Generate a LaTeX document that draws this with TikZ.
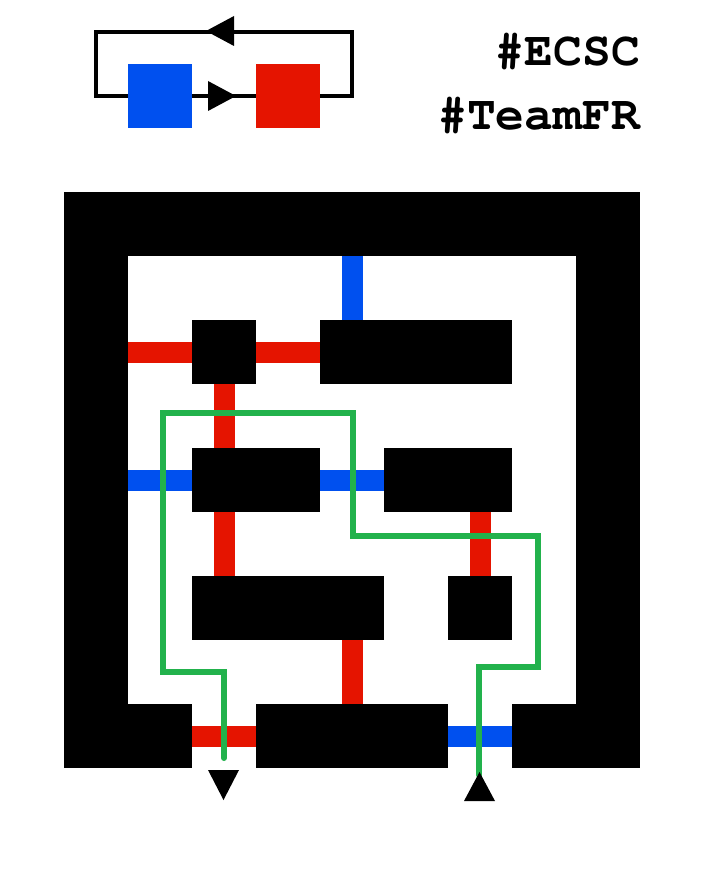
\documentclass[tikz,border=0pt]{standalone}
\usepackage[T1]{fontenc}
\definecolor{mblue}{RGB}{0,80,239}
\definecolor{mred}{RGB}{229,20,0}
\definecolor{mgreen}{RGB}{34,178,76}
\tikzset{
  blk/.style={fill=black, draw=none, inner sep=0pt, outer sep=0pt},
  sq/.style={draw=none, inner sep=0pt, outer sep=0pt, minimum width=64pt, minimum height=64pt},
  bar/.style={line width=21pt, line cap=butt},
  route/.style={draw=mgreen, line width=6pt, line cap=round, line join=miter},
  legline/.style={draw=black, line width=4pt},
  tag/.style={anchor=base east, inner sep=0pt, font=\fontfamily{pcr}\fontseries{b}\fontsize{48}{48}\selectfont}
}
\begin{document}
\begin{tikzpicture}[x=1pt,y=-1pt]
\useasboundingbox (0,0) rectangle (704,896);
% legend
\coordinate (lTL) at (96,32);
\coordinate (lTR) at (352,32);
\coordinate (lBL) at (96,96);
\coordinate (lBR) at (352,96);
\draw[legline] (lBL) -- (lTL) -- (lTR) -- (lBR) -- cycle;
\node[sq, fill=mblue] (lblue) at (160,96) {};
\node[sq, fill=mred] (lred) at (288,96) {};
\fill (208,81) -- (236,96) -- (208,111) -- cycle;
\fill (234,16) -- (206,31) -- (234,46) -- cycle;
% tags
\node[tag] (t1) at (640,66) {\#ECSC};
\node[tag] (t2) at (640,130) {\#TeamFR};
% frame
\fill[black] (64,192) rectangle (640,768);
\fill[white] (128,256) rectangle (576,704);
\fill[white] (192,704) rectangle (256,768);
\fill[white] (448,704) rectangle (512,768);
% bars
\draw[bar, mblue] (352,256) -- (352,320);
\draw[bar, mred] (128,352) -- (192,352);
\draw[bar, mred] (256,352) -- (320,352);
\draw[bar, mred] (224,384) -- (224,448);
\draw[bar, mblue] (128,480) -- (192,480);
\draw[bar, mblue] (320,480) -- (384,480);
\draw[bar, mred] (224,512) -- (224,576);
\draw[bar, mred] (480,512) -- (480,576);
\draw[bar, mred] (352,640) -- (352,704);
\draw[bar, mred] (192,736) -- (256,736);
\draw[bar, mblue] (448,736) -- (512,736);
% blocks
\node[blk, minimum width=64pt, minimum height=64pt] (b1) at (224,352) {};
\node[blk, minimum width=192pt, minimum height=64pt] (b2) at (416,352) {};
\node[blk, minimum width=128pt, minimum height=64pt] (b3) at (256,480) {};
\node[blk, minimum width=128pt, minimum height=64pt] (b4) at (448,480) {};
\node[blk, minimum width=192pt, minimum height=64pt] (b5) at (288,608) {};
\node[blk, minimum width=64pt, minimum height=64pt] (b6) at (480,608) {};
% route
\coordinate (start) at (224,758);
\coordinate (finish) at (479,775);
\draw[route] (start) -- (224,672) -- (163,672) -- (163,413) -- (353,413) -- (353,536) -- (538,536) -- (538,667) -- (479,667) -- (finish);
% in/out arrows
\fill (208,770) -- (239,770) -- (223.5,800) -- cycle;
\fill (464,801) -- (495,801) -- (479.5,772) -- cycle;
\end{tikzpicture}
\end{document}
